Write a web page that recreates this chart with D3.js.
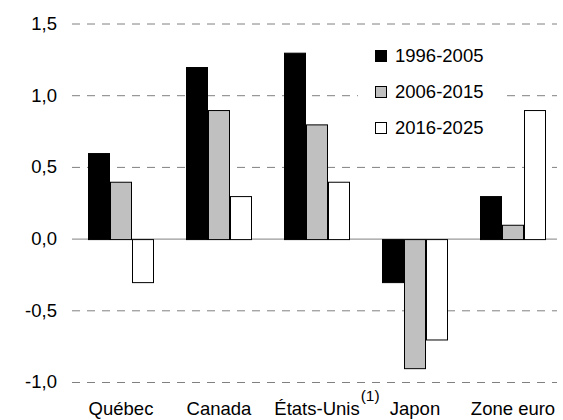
<!DOCTYPE html>
<html><head><meta charset="utf-8">
<script src="https://cdn.jsdelivr.net/npm/d3@7"></script>
<style>body{margin:0;background:#fff}text{font-family:"Liberation Sans",Arial,sans-serif;fill:#000}</style>
</head><body>
<svg id="c" width="563" height="420"></svg>
<script>
const categories = ["Québec", "Canada", "États-Unis", "Japon", "Zone euro"];
const categorySup = ["", "", "(1)", "", ""];
const seriesNames = ["1996-2005", "2006-2015", "2016-2025"];
const s1 = [0.6, 1.2, 1.3, -0.3, 0.3];
const s2 = [0.4, 0.9, 0.8, -0.9, 0.1];
const s3 = [-0.3, 0.3, 0.4, -0.7, 0.9];
const seriesColors = ["#000000", "#c0c0c0", "#ffffff"];
const yTicks = [-1.0, -0.5, 0.0, 0.5, 1.0, 1.5];

const series = [s1, s2, s3];
const svg = d3.select("#c");
const fs = 18.5;
const y = d3.scaleLinear().domain([-1.0, 1.5]).range([382.5, 24]);
const x0 = d3.scaleBand().domain(categories).range([72, 562]).paddingInner(0).paddingOuter(0);
const x1 = d3.scaleBand().domain(seriesNames).range([x0.bandwidth()/2 - 33, x0.bandwidth()/2 + 33]);

// gridlines
svg.append("g").selectAll("line").data(yTicks.filter(d => d !== 0)).join("line")
  .attr("x1", 72).attr("x2", 557).attr("y1", d => y(d)).attr("y2", d => y(d))
  .attr("stroke", "#808080").attr("stroke-width", 1).attr("stroke-dasharray", "8,7");

// y tick labels
const fmt = d => d3.format(".1f")(d).replace(".", ",").replace("−", "-");
svg.append("g").selectAll("text").data(yTicks).join("text")
  .attr("x", 57).attr("y", d => y(d)).attr("dy", "0.32em").attr("text-anchor", "end")
  .attr("font-size", fs).text(fmt);

// zero line
svg.append("line").attr("x1", 72).attr("x2", 557).attr("y1", y(0)).attr("y2", y(0))
  .attr("stroke", "#808080").attr("stroke-width", 1);

// legend background (breaks gridline)
svg.append("rect").attr("x", 358).attr("y", 38).attr("width", 144).attr("height", 100).attr("fill", "#fff");

// bars
const g = svg.append("g");
categories.forEach((c, i) => {
  series.forEach((s, j) => {
    const v = s[i];
    g.append("rect")
      .attr("x", x0(c) + x1(seriesNames[j]) + 0.5)
      .attr("y", Math.min(y(v), y(0)) + 0.5)
      .attr("width", x1.bandwidth() - 1)
      .attr("height", Math.abs(y(v) - y(0)))
      .attr("fill", seriesColors[j]).attr("stroke", "#000").attr("stroke-width", 1);
  });
});

// x labels
categories.forEach((c, i) => {
  const cx = x0(c) + x0.bandwidth()/2;
  const t = svg.append("text").attr("x", cx).attr("y", 415).attr("text-anchor", "middle")
    .attr("font-size", fs).text(c);
  if (categorySup[i]) {
    const w = t.node().getComputedTextLength();
    svg.append("text").attr("x", cx + w/2 + 1).attr("y", 401).attr("font-size", 15.5).text(categorySup[i]);
  }
});

// legend
const ly = [56, 92, 128];
seriesNames.forEach((n, j) => {
  svg.append("rect").attr("x", 375.5).attr("y", ly[j] - 5.5).attr("width", 11).attr("height", 11)
    .attr("fill", seriesColors[j]).attr("stroke", "#000").attr("stroke-width", 1);
  svg.append("text").attr("x", 395).attr("y", ly[j]).attr("dy", "0.35em").attr("font-size", fs).text(n);
});
</script>
</body></html>
